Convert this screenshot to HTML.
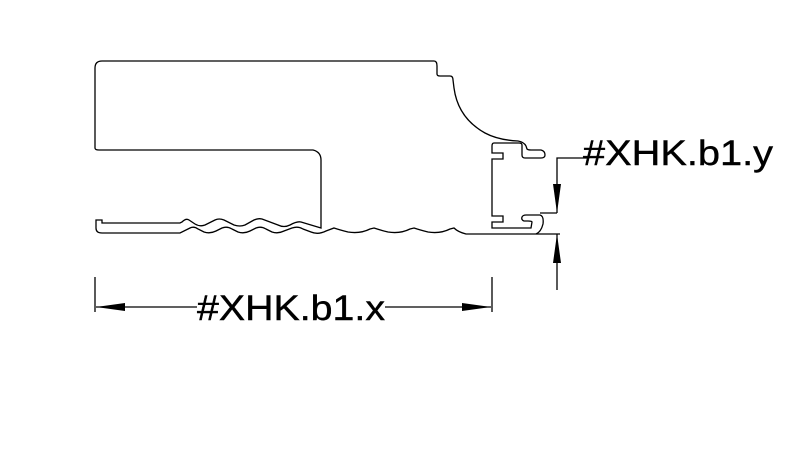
<!DOCTYPE html>
<html><head><meta charset="utf-8"><style>html,body{margin:0;padding:0;background:#fff}svg{display:block}</style></head>
<body>
<svg width="802" height="457" viewBox="0 0 802 457" xmlns="http://www.w3.org/2000/svg">
<g fill="none" stroke="#000" stroke-width="1.3">
<path d="M95,148 L95,68 Q95,61 102,61 L434,61 Q437,61 437,66 L437,74 Q437,76 440,76 L450,76 Q453,76 453,80 L454,88 Q458,118 485,133 Q498,140 518,141 Q524,142 526,146 L527,149 Q528,150 531,150 L541,150 Q545,151 545,155 Q545,158 541,158 L525,158 Q522,158 522,155 L522,145 Q522,143 519,143 L494,143 Q492,143 492,146 L492,153 L503,153 L503,159 L492,159 L492,216 L503,216 L503,222 L492,222 L492,228 L531,228 L532,222 Q532,221 528,221 L524,221 Q521,220 522,217 Q523,215 526,215 L540,215 Q544,216 543,224 Q541,232 536,234"/>
<path d="M95,148 Q95,150 99,150 L313,150 Q321,152 321,160 L321,228 L301,222 Q297,221 290,225 Q284,228 278,225 L262,219 Q258,218 254,220 L245,225 Q240,227 234,225 L224,220 Q219,218 215,220 L205,225 Q200,227 195,224 L189,220 Q186,218 182,222 L180,223 L102,223 L102,220 L96,220 L96,228 Q96,233 102,233 L180,233 Q186,230 190,228 Q194,226 198,229 L204,232 Q210,234 216,231 L222,228 Q227,226 232,229 L238,232 Q244,234 250,231 L256,228 Q261,226 266,229 L272,232 Q278,234 284,231 L292,228 Q298,226 303,229 L311,232 Q318,235 326,231 L334,228 Q340,230 348,232 Q360,234 370,229 L374,228 Q380,230 388,232 Q400,234 410,229 L414,228 Q420,230 428,232 Q440,234 450,229 L454,228 Q458,232 466,234 L550,234"/>
<path d="M95,277 V312 M492,277 V312 M96,307 H197 M385,307 H491"/>
<path d="M587,158 H557 V213 M540,213 H557 M557,234 V290 M550,234 H560"/>
</g>
<g fill="#000">
<polygon points="96,307 125,303 125,311"/>
<polygon points="491,307 462,303 462,311"/>
<polygon points="557,213 553,184 561,184"/>
<polygon points="557,234 553,263 561,263"/>
</g>
<text x="197" y="320" font-family="Liberation Sans, sans-serif" font-size="35" stroke="#000" stroke-width="0.4" textLength="188" lengthAdjust="spacingAndGlyphs">#XHK.b1.x</text>
<text x="583" y="165" font-family="Liberation Sans, sans-serif" font-size="35" stroke="#000" stroke-width="0.4" textLength="190" lengthAdjust="spacingAndGlyphs">#XHK.b1.y</text>
</svg>
</body></html>
